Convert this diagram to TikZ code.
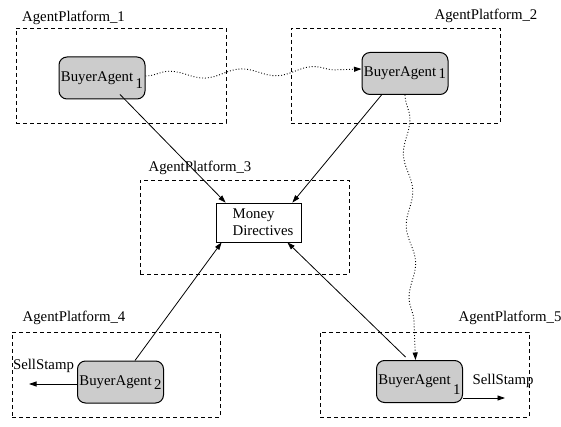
\documentclass[tikz,border=0pt]{standalone}
\usepackage{fontspec}
\setmainfont{Liberation Serif}
\usetikzlibrary{arrows.meta,decorations.pathmorphing}
\begin{document}
\begin{tikzpicture}[x=1pt,y=-1pt,
  every node/.style={font=\fontsize{14.8}{17}\selectfont},
  platform/.style={draw, dash pattern=on 4pt off 3pt, line width=0.8pt},
  agent/.style={draw, line width=1pt, fill=black!20, rounded corners=8pt, inner sep=0pt, minimum width=86pt, minimum height=42pt},
  moneybox/.style={draw, line width=0.8pt, inner sep=0pt, minimum width=85pt, minimum height=39pt, align=left},
  lbl/.style={inner sep=0pt},
  arr/.style={line width=0.8pt, -{Triangle[length=7.5pt,width=5pt]}},
  wavy/.style={dotted, line width=0.9pt, -{Triangle[length=7.5pt,width=5pt]}, decorate, decoration={snake, amplitude=4pt, segment length=72pt, pre length=1pt, post length=8pt}}]
\path[use as bounding box] (0,0) rectangle (561,427);
% platforms
\node[platform, minimum width=210pt, minimum height=95pt] (p1) at (121,75.5) {};
\node[platform, minimum width=209pt, minimum height=95pt] (p2) at (395.5,75.5) {};
\node[platform, minimum width=209pt, minimum height=94pt] (p3) at (244.5,227) {};
\node[platform, minimum width=208pt, minimum height=85pt] (p4) at (116,374.5) {};
\node[platform, minimum width=209pt, minimum height=85pt] (p5) at (424.5,374.5) {};
% platform labels
\node[lbl] (l1) at (73.5,18) {AgentPlatform\_1};
\node[lbl] (l2) at (486,16) {AgentPlatform\_2};
\node[lbl] (l3) at (200,168) {AgentPlatform\_3};
\node[lbl] (l4) at (74,318) {AgentPlatform\_4};
\node[lbl] (l5) at (510,318) {AgentPlatform\_5};
% agents
\node[agent] (b1) at (102,78) {\raisebox{-2pt}{BuyerAgent}\,\smash{\raisebox{-9pt}{1}}};
\node[agent] (b2) at (405,73.5) {\raisebox{-3pt}{BuyerAgent}\,\smash{\raisebox{-5pt}{1}}};
\node[agent] (b4) at (120.5,382) {\raisebox{-2pt}{BuyerAgent}\,\smash{\raisebox{-6pt}{2}}};
\node[agent] (b5) at (419.5,381.5) {\raisebox{-3pt}{BuyerAgent}\,\smash{\raisebox{-13pt}{1}}};
% money
\node[moneybox] (m) at (258.5,222.5) {\hspace{9pt}Money\\\hspace{9pt}Directives\hspace{4pt}};
% solid arrows
\draw[arr] ([xshift=18pt,yshift=5pt]b1.south) -- ([xshift=10pt]m.north west);
\draw[arr] ([xshift=20pt]b2.south west) -- ([xshift=-9pt]m.north east);
\draw[arr] ([xshift=14.5pt]b4.north) -- ([xshift=6pt]m.south west);
\draw[arr] ([xshift=-14pt,yshift=3pt]b5.north) -- ([xshift=-14pt]m.south east);
% SellStamp
\coordinate (s4) at (29,384);
\coordinate (s5) at (505,398);
\draw[arr] (b4.west |- s4) -- (s4);
\draw[arr] (b5.east |- s5) -- (s5);
\node[lbl] (t4) at (43.5,366) {SellStamp};
\node[lbl] (t5) at (503,381) {SellStamp};
% wavy dotted
\draw[wavy] ([yshift=2pt]b1.east) -- ([yshift=4.5pt]b2.west);
\draw[wavy] (b2.south) -- ([xshift=-4pt]b5.north);
\end{tikzpicture}
\end{document}
